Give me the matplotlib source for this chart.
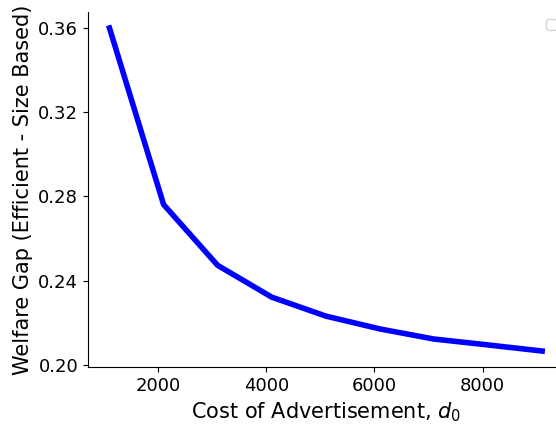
import matplotlib
matplotlib.use('Agg')
import matplotlib.pyplot as plt

cost = [1100, 2100, 3100, 4100, 5100, 6100, 7100, 8100, 9100]
gap = [0.360, 0.2762, 0.2473, 0.2322, 0.2232, 0.2171, 0.2123, 0.2095, 0.2066]

fig = plt.figure(figsize=(5.56, 4.25), dpi=100)
ax = fig.add_axes([0.158, 0.136, 0.856, 0.836])
ax.plot(cost, gap, color='blue', linewidth=4)
ax.spines['top'].set_visible(False)
ax.spines['right'].set_visible(False)
ax.set_yticks([0.20, 0.24, 0.28, 0.32, 0.36])
ax.set_xticks([2000, 4000, 6000, 8000])
ax.tick_params(labelsize=13)
ax.set_xlabel('Cost of Advertisement, $d_0$', fontsize=15)
ax.set_ylabel('Welfare Gap (Efficient - Size Based)', fontsize=15)
ax.legend(handles=[], loc='upper right')
fig.savefig('out.png', dpi=100)
